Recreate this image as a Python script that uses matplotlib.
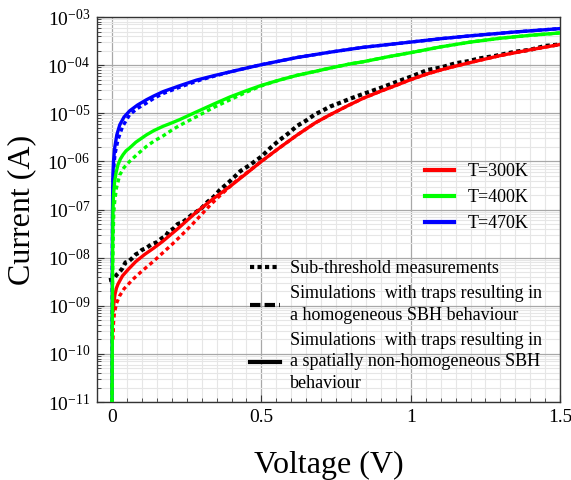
import math
import matplotlib
matplotlib.use("Agg")
import matplotlib.pyplot as plt
from matplotlib.lines import Line2D
from matplotlib.ticker import LogLocator, MultipleLocator, FuncFormatter, NullFormatter

plt.rcParams['font.family'] = ['Liberation Serif', 'DejaVu Serif']
plt.rcParams['mathtext.fontset'] = 'custom'
plt.rcParams['mathtext.rm'] = 'Liberation Serif'
plt.rcParams['mathtext.it'] = 'Liberation Serif:italic'

# voltage (V) and log10 of current (A)
# T=470K, non-homogeneous (solid) and homogeneous (dashed) simulations
v_470 = [0.0, 0.001, 0.002, 0.003, 0.005, 0.009, 0.016, 0.026, 0.04, 0.059, 0.085, 0.115,
         0.14, 0.171, 0.23, 0.283, 0.34, 0.395, 0.45, 0.5, 0.62, 0.73, 0.84, 1.0, 1.1,
         1.2, 1.35, 1.5]
logi_470 = [-11.0, -8.0, -6.8, -6.3, -6.0, -5.72, -5.45, -5.24, -5.08, -4.95, -4.83, -4.72,
            -4.64, -4.55, -4.42, -4.31, -4.22, -4.14, -4.06, -3.99, -3.84, -3.73, -3.63, -3.52,
            -3.45, -3.39, -3.31, -3.24]
v_470h = [0.0, 0.001, 0.002, 0.004, 0.007, 0.01, 0.02, 0.035, 0.059, 0.085, 0.115, 0.14,
          0.171, 0.23, 0.3, 0.395, 0.45, 0.5, 0.62, 0.73, 0.84, 1.0, 1.1, 1.2, 1.35, 1.5]
logi_470h = [-11.0, -8.2, -7.0, -6.4, -6.05, -5.85, -5.55, -5.28, -5.03, -4.9, -4.79, -4.69,
             -4.59, -4.45, -4.3, -4.14, -4.06, -3.99, -3.84, -3.73, -3.63, -3.52, -3.45,
             -3.39, -3.31, -3.24]

# T=400K
v_400 = [0.0, 0.002, 0.003, 0.005, 0.009, 0.014, 0.02, 0.028, 0.037, 0.047, 0.059, 0.08,
         0.115, 0.14, 0.171, 0.2, 0.227, 0.283, 0.34, 0.395, 0.45, 0.5, 0.56, 0.62, 0.68,
         0.73, 0.8, 0.84, 0.92, 1.0, 1.1, 1.2, 1.3, 1.4, 1.5]
logi_400 = [-11.0, -8.0, -7.03, -6.7, -6.41, -6.22, -6.07, -5.95, -5.86, -5.78, -5.72, -5.6,
            -5.45, -5.36, -5.27, -5.2, -5.13, -4.97, -4.81, -4.66, -4.53, -4.42, -4.31, -4.21,
            -4.13, -4.06, -3.97, -3.93, -3.83, -3.74, -3.62, -3.52, -3.44, -3.38, -3.33]
v_400h = [0.0, 0.002, 0.004, 0.006, 0.009, 0.015, 0.026, 0.04, 0.059, 0.085, 0.115, 0.14,
          0.171, 0.2, 0.227, 0.283, 0.34, 0.395, 0.45, 0.5, 0.56, 0.62, 0.68, 0.73, 0.8,
          0.84, 0.92, 1.0, 1.1, 1.2, 1.3, 1.4, 1.5]
logi_400h = [-11.0, -8.4, -7.5, -7.05, -6.83, -6.55, -6.28, -6.13, -6.0, -5.85, -5.69, -5.58,
             -5.47, -5.35, -5.25, -5.07, -4.88, -4.72, -4.56, -4.43, -4.31, -4.21, -4.13,
             -4.06, -3.97, -3.93, -3.83, -3.74, -3.62, -3.52, -3.44, -3.38, -3.33]

# T=300K
v_300 = [0.004, 0.007, 0.01, 0.015, 0.02, 0.035, 0.055, 0.08, 0.11, 0.14, 0.17, 0.22,
         0.283, 0.34, 0.395, 0.45, 0.5, 0.56, 0.62, 0.68, 0.73, 0.79, 0.84, 0.9, 0.955,
         1.0, 1.056, 1.1, 1.15, 1.23, 1.3, 1.4, 1.5]
logi_300 = [-9.1, -8.9, -8.76, -8.63, -8.55, -8.38, -8.24, -8.08, -7.93, -7.8, -7.66, -7.4,
            -7.05, -6.77, -6.52, -6.25, -6.0, -5.72, -5.45, -5.2, -5.03, -4.84, -4.69, -4.54,
            -4.41, -4.3, -4.18, -4.1, -4.02, -3.9, -3.8, -3.68, -3.57]
v_300h = [0.003, 0.005, 0.008, 0.015, 0.025, 0.04, 0.07, 0.1, 0.14, 0.17, 0.2, 0.23,
          0.27, 0.3, 0.33, 0.36, 0.39, 0.42, 0.45, 0.5, 0.56, 0.62, 0.68, 0.73, 0.79,
          0.84, 0.9, 0.955, 1.0, 1.056, 1.1, 1.15, 1.23, 1.3, 1.4, 1.5]
logi_300h = [-9.7, -9.35, -9.15, -8.95, -8.8, -8.65, -8.45, -8.28, -8.07, -7.9, -7.73, -7.55,
             -7.3, -7.1, -6.9, -6.72, -6.55, -6.38, -6.24, -6.0, -5.72, -5.45, -5.2, -5.03,
             -4.84, -4.69, -4.54, -4.41, -4.3, -4.18, -4.1, -4.02, -3.9, -3.8, -3.68, -3.57]

# sub-threshold measurement at 300 K (noisy)
v_meas = [-0.01, 0.005, 0.015, 0.025, 0.035, 0.045, 0.055, 0.066, 0.08, 0.09, 0.1, 0.115,
          0.13, 0.15, 0.166, 0.18, 0.19, 0.205, 0.22, 0.235, 0.25, 0.265, 0.28, 0.3, 0.32,
          0.34, 0.36, 0.395, 0.43, 0.46, 0.5, 0.53, 0.56, 0.59, 0.62, 0.65, 0.68, 0.7,
          0.73, 0.76, 0.8, 0.84, 0.9, 0.93, 0.955, 1.0, 1.056, 1.1, 1.15, 1.19, 1.23,
          1.28, 1.35, 1.4, 1.45, 1.5]
logi_meas = [-8.47, -8.45, -8.36, -8.3, -8.22, -8.1, -8.08, -8.02, -7.93, -7.9, -7.84, -7.8,
             -7.73, -7.68, -7.6, -7.55, -7.45, -7.4, -7.3, -7.27, -7.2, -7.12, -7.06, -6.97, -6.84,
             -6.74, -6.6, -6.41, -6.2, -6.08, -5.9, -5.72, -5.56, -5.42, -5.26, -5.15, -5.02, -4.96,
             -4.86, -4.79, -4.69, -4.6, -4.47, -4.4, -4.34, -4.24, -4.1, -4.05, -3.96, -3.92, -3.86,
             -3.81, -3.72, -3.68, -3.6, -3.57]

RED = '#ff0000'
GREEN = '#00ff00'
BLUE = '#0000ff'
DASH = (0, (1.2, 1.0))


def curr(logs):
    return [10.0 ** x for x in logs]


fig = plt.figure(figsize=(5.71, 4.8), dpi=100)
ax = fig.add_axes([0.170, 0.1625, 0.811, 0.802])

ax.plot(v_meas, curr(logi_meas), color='black', lw=3.0, ls=(0, (1.0, 0.8)), zorder=3)
ax.plot(v_300h, curr(logi_300h), color=RED, lw=2.4, ls=DASH, zorder=4)
ax.plot(v_300, curr(logi_300), color=RED, lw=2.4, zorder=4)
ax.plot(v_470, curr(logi_470), color=BLUE, lw=2.4, zorder=4)
ax.plot(v_470h, curr(logi_470h), color=BLUE, lw=2.4, ls=DASH, zorder=4)
ax.plot(v_400, curr(logi_400), color=GREEN, lw=2.4, zorder=4)
ax.plot(v_400h, curr(logi_400h), color=GREEN, lw=2.4, ls=DASH, zorder=4)

ax.set_yscale('log')
ax.set_xlim(-0.05, 1.5)
ax.set_ylim(1e-11, 1e-3)

ax.xaxis.set_major_locator(MultipleLocator(0.5))
ax.xaxis.set_minor_locator(MultipleLocator(0.05))
ax.xaxis.set_major_formatter(FuncFormatter(lambda x, p: '%g' % x))
ax.yaxis.set_major_locator(LogLocator(base=10, numticks=20))
ax.yaxis.set_minor_locator(LogLocator(base=10, subs=range(2, 10), numticks=20))
ax.yaxis.set_minor_formatter(NullFormatter())
ax.yaxis.set_major_formatter(FuncFormatter(
    lambda y, p: r'$\mathregular{10^{-%02d}}$' % round(-math.log10(y))))

ax.grid(which='major', color='#a8a8a8', lw=0.9)
ax.grid(which='minor', color='#e6e6e6', lw=0.8)
ax.set_axisbelow(True)
ax.tick_params(which='both', direction='in', top=False, right=False, colors='#333333',
               labelcolor='black', labelsize=14)
ax.tick_params(which='major', length=5, pad=5)
ax.tick_params(which='minor', length=3)
for s in ax.spines.values():
    s.set_color('#333333')
    s.set_linewidth(1.0)

ax.set_xlabel('Voltage (V)', fontsize=23, labelpad=18)
ax.set_ylabel('Current (A)', fontsize=23, labelpad=8)

temp_handles = [Line2D([], [], color=RED, lw=3),
                Line2D([], [], color=GREEN, lw=3),
                Line2D([], [], color=BLUE, lw=3)]
leg1 = ax.legend(temp_handles, ['T=300K', 'T=400K', 'T=470K'], loc='upper left',
                 bbox_to_anchor=(425 / 571, 1 - 163 / 480), bbox_transform=fig.transFigure,
                 frameon=False, fontsize=13, handlelength=1.6, handletextpad=0.75,
                 labelspacing=0.5, borderpad=0, borderaxespad=0)
ax.add_artist(leg1)

style_handles = [Line2D([], [], color='black', lw=3, ls=(0, (1.0, 0.8))),
                 Line2D([], [], color='black', lw=3, ls=(0, (2.5, 1.0))),
                 Line2D([], [], color='black', lw=3)]
style_labels = ['Sub-threshold measurements',
                'Simulations  with traps resulting in\na homogeneous SBH behaviour',
                'Simulations  with traps resulting in\na spatially non-homogeneous SBH\nbehaviour']
leg2 = ax.legend(style_handles, style_labels, loc='upper left',
                 bbox_to_anchor=(250 / 571, 1 - 260 / 480), bbox_transform=fig.transFigure,
                 frameon=False, fontsize=13, handlelength=1.65, handletextpad=0.55,
                 labelspacing=0.45, borderpad=0, borderaxespad=0)
for t in leg2.get_texts():
    t.set_linespacing(1.35)

fig.savefig('out.png', dpi=100)
